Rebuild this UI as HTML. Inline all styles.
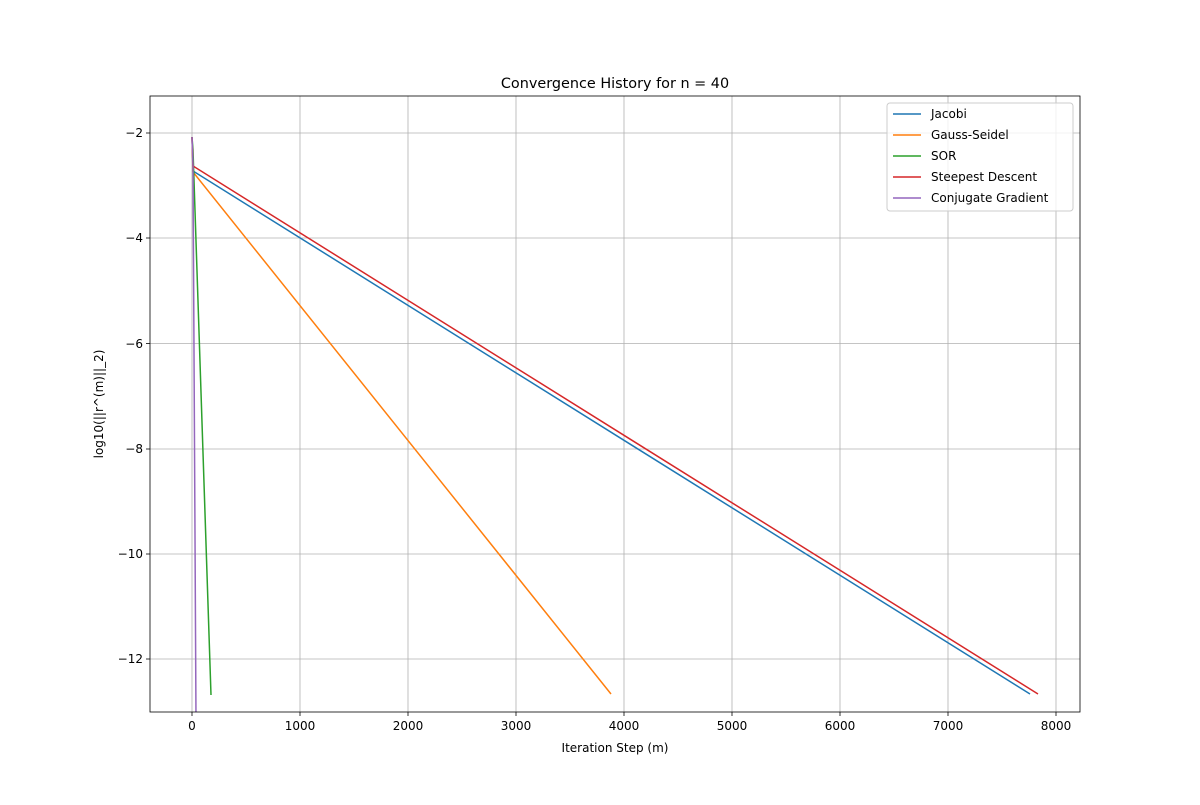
<!DOCTYPE html>
<html><head><meta charset="utf-8"><style>
body{margin:0;background:#fff;}
svg text{font-family:"DejaVu Sans","Liberation Sans",sans-serif;fill:#000}
</style></head><body>
<svg width="1200" height="800" xmlns="http://www.w3.org/2000/svg">
<rect width="1200" height="800" fill="#fff"/>
<defs><clipPath id="c"><rect x="150" y="96" width="930" height="616"/></clipPath></defs>
<g stroke="#b0b0b0" stroke-width="0.8">
<line x1="192" y1="96" x2="192" y2="712"/><line x1="300" y1="96" x2="300" y2="712"/><line x1="408" y1="96" x2="408" y2="712"/><line x1="516" y1="96" x2="516" y2="712"/><line x1="624" y1="96" x2="624" y2="712"/><line x1="732" y1="96" x2="732" y2="712"/><line x1="840" y1="96" x2="840" y2="712"/><line x1="948" y1="96" x2="948" y2="712"/><line x1="1056" y1="96" x2="1056" y2="712"/>
<line x1="150" y1="133" x2="1080" y2="133"/><line x1="150" y1="238" x2="1080" y2="238"/><line x1="150" y1="343.5" x2="1080" y2="343.5"/><line x1="150" y1="449" x2="1080" y2="449"/><line x1="150" y1="554" x2="1080" y2="554"/><line x1="150" y1="659" x2="1080" y2="659"/>
</g>
<g clip-path="url(#c)" fill="none" stroke-width="1.5">
<polyline stroke="#1f77b4" points="192,137 193,171 1030,694"/>
<polyline stroke="#ff7f0e" points="192,137 193,172 611,694"/>
<polyline stroke="#2ca02c" points="192,137 193,150 211,695"/>
<polyline stroke="#d62728" points="192,137 193,166 1038,694"/>
<polyline stroke="#9467bd" points="192,137 193,166 196,720"/>
</g>
<rect x="150" y="96" width="930" height="616" fill="none" stroke="#000" stroke-width="0.8"/>
<g stroke="#000" stroke-width="0.8">
<line x1="192" y1="712" x2="192" y2="716"/><line x1="300" y1="712" x2="300" y2="716"/><line x1="408" y1="712" x2="408" y2="716"/><line x1="516" y1="712" x2="516" y2="716"/><line x1="624" y1="712" x2="624" y2="716"/><line x1="732" y1="712" x2="732" y2="716"/><line x1="840" y1="712" x2="840" y2="716"/><line x1="948" y1="712" x2="948" y2="716"/><line x1="1056" y1="712" x2="1056" y2="716"/>
<line x1="146" y1="133" x2="150" y2="133"/><line x1="146" y1="238" x2="150" y2="238"/><line x1="146" y1="343.5" x2="150" y2="343.5"/><line x1="146" y1="449" x2="150" y2="449"/><line x1="146" y1="554" x2="150" y2="554"/><line x1="146" y1="659" x2="150" y2="659"/>
</g>
<g font-size="12" text-anchor="middle">
<text x="192" y="730">0</text><text x="300" y="730">1000</text><text x="408" y="730">2000</text><text x="516" y="730">3000</text><text x="624" y="730">4000</text><text x="732" y="730">5000</text><text x="840" y="730">6000</text><text x="948" y="730">7000</text><text x="1056" y="730">8000</text>
</g>
<g font-size="12" text-anchor="end">
<text x="143" y="137">−2</text><text x="143" y="242">−4</text><text x="143" y="348">−6</text><text x="143" y="453">−8</text><text x="143" y="558">−10</text><text x="143" y="663">−12</text>
</g>
<text x="615" y="752" font-size="12" text-anchor="middle">Iteration Step (m)</text>
<text transform="translate(103,404) rotate(-90)" font-size="12" text-anchor="middle">log10(||r^(m)||_2)</text>
<text x="615" y="88" font-size="14.4" text-anchor="middle">Convergence History for n = 40</text>
<rect x="887" y="103" width="186" height="108" rx="3" fill="#fff" fill-opacity="0.8" stroke="#ccc"/>
<g stroke-width="1.5">
<line x1="893" y1="114" x2="921" y2="114" stroke="#1f77b4"/>
<line x1="893" y1="135" x2="921" y2="135" stroke="#ff7f0e"/>
<line x1="893" y1="156" x2="921" y2="156" stroke="#2ca02c"/>
<line x1="893" y1="177" x2="921" y2="177" stroke="#d62728"/>
<line x1="893" y1="198" x2="921" y2="198" stroke="#9467bd"/>
</g>
<g font-size="12">
<text x="931" y="118">Jacobi</text><text x="931" y="139">Gauss-Seidel</text><text x="931" y="160">SOR</text><text x="931" y="181">Steepest Descent</text><text x="931" y="202">Conjugate Gradient</text>
</g>
</svg>
</body></html>
